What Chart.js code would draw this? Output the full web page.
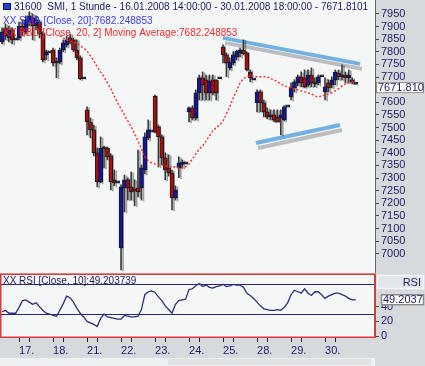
<!DOCTYPE html>
<html>
<head>
<meta charset="utf-8">
<script src="https://cdn.jsdelivr.net/npm/chart.js@4.4.1/dist/chart.umd.min.js"></script>
<style>
    body { margin: 0; width: 425px; height: 366px; overflow: hidden; background: #d6dadd; position: relative; }
    #price { position: absolute; left: 0; top: 0; }
    #rsi { position: absolute; left: 0; top: 273px; }
</style>
</head>
<body>
<canvas id="price" width="425" height="273"></canvas>
<canvas id="rsi" width="425" height="93"></canvas>
<script>
// hourly bars, 16.01.2008 14:00 .. 30.01.2008 18:00
const OPEN = [
    7839, 7895, 7855, 7887, 7847,
    7855, 7902, 7879, 7918, 7934, 7902, 7918, 7871, 7788, 7796,
    7807, 7764, 7760, 7807, 7827, 7855, 7847, 7807, 7776, 7693,
    7570, 7522, 7491, 7400, 7285, 7423, 7419, 7388, 7293, 7281,
    7023, 7261, 7293, 7265, 7253, 7261, 7261, 7332, 7459, 7483,
    7625, 7503, 7463, 7380, 7340, 7320, 7221, 7340, 7354, 7356,
    7562, 7578, 7538, 7637, 7697, 7689, 7637, 7689, 7689, 7693,
    7819, 7788, 7736, 7756, 7780, 7796, 7807, 7796, 7720, 7689,
    7598, 7641, 7598, 7562, 7542, 7550, 7542, 7538, 7530, 7582,
    7621, 7657, 7677, 7701, 7697, 7669, 7708, 7677, 7677, 7701,
    7641, 7677, 7669, 7689, 7716, 7701, 7708, 7697, 7689, 7671.81,
];
const HIGH = [
    7895, 7910, 7902, 7895, 7847,
    7918, 7926, 7942, 7958, 7950, 7942, 7926, 7879, 7807, 7796,
    7815, 7776, 7815, 7847, 7863, 7871, 7855, 7847, 7784, 7693,
    7582, 7538, 7510, 7419, 7463, 7427, 7423, 7396, 7332, 7281,
    7273, 7312, 7301, 7324, 7293, 7411, 7352, 7479, 7530, 7483,
    7629, 7510, 7471, 7400, 7392, 7332, 7269, 7384, 7372, 7356,
    7582, 7586, 7649, 7708, 7720, 7708, 7708, 7708, 7689, 7693,
    7827, 7796, 7776, 7800, 7807, 7815, 7847, 7800, 7728, 7689,
    7649, 7649, 7609, 7578, 7570, 7570, 7570, 7570, 7586, 7582,
    7677, 7689, 7708, 7720, 7728, 7728, 7736, 7697, 7708, 7701,
    7697, 7689, 7701, 7728, 7728, 7748, 7720, 7728, 7697, 7671.81,
];
const LOW = [
    7831, 7847, 7839, 7831, 7847,
    7847, 7863, 7871, 7902, 7847, 7887, 7855, 7760, 7768, 7796,
    7744, 7697, 7752, 7800, 7819, 7831, 7800, 7768, 7689, 7693,
    7471, 7459, 7388, 7265, 7281, 7340, 7372, 7253, 7269, 7281,
    6936, 7166, 7213, 7213, 7190, 7225, 7213, 7316, 7451, 7483,
    7479, 7344, 7352, 7293, 7308, 7174, 7213, 7301, 7340, 7356,
    7522, 7530, 7530, 7609, 7609, 7609, 7609, 7629, 7609, 7693,
    7756, 7701, 7728, 7748, 7768, 7780, 7788, 7724, 7681, 7689,
    7562, 7562, 7542, 7534, 7530, 7522, 7522, 7471, 7526, 7582,
    7609, 7641, 7665, 7661, 7657, 7661, 7661, 7661, 7669, 7701,
    7609, 7641, 7657, 7669, 7689, 7689, 7677, 7677, 7673, 7671.81,
];
const CLOSE = [
    7879, 7863, 7887, 7847, 7847,
    7902, 7879, 7926, 7942, 7902, 7926, 7871, 7768, 7800, 7796,
    7756, 7756, 7807, 7835, 7847, 7839, 7807, 7776, 7693, 7693,
    7522, 7491, 7400, 7285, 7419, 7415, 7384, 7285, 7281, 7281,
    7265, 7293, 7261, 7245, 7249, 7245, 7340, 7463, 7491, 7483,
    7483, 7463, 7380, 7332, 7320, 7221, 7253, 7360, 7358, 7356,
    7578, 7538, 7637, 7697, 7669, 7637, 7685, 7637, 7637, 7693,
    7788, 7756, 7760, 7788, 7803, 7807, 7792, 7728, 7697, 7689,
    7641, 7598, 7562, 7542, 7546, 7530, 7522, 7550, 7582, 7582,
    7657, 7681, 7701, 7677, 7661, 7708, 7677, 7673, 7701, 7701,
    7661, 7657, 7689, 7720, 7701, 7704, 7697, 7708, 7681, 7671.81,
];
// BBD middle band = SMA(Close, 20)
const SMA20 = [
    null, null, null, null, null,
    null, null, null, null, null, null, null, null, null, null,
    null, null, 7863, 7855, 7847, 7843, 7839, 7835, 7823, 7815,
    7803, 7784, 7764, 7740, 7720, 7701, 7677, 7653, 7625, 7598,
    7574, 7550, 7526, 7503, 7475, 7447, 7415, 7384, 7368, 7360,
    7356, 7352, 7352, 7348, 7348, 7344, 7344, 7340, 7340, 7344,
    7356, 7376, 7396, 7415, 7427, 7447, 7467, 7487, 7499, 7510,
    7526, 7554, 7582, 7617, 7645, 7677, 7693, 7701, 7704, 7704,
    7701, 7701, 7701, 7701, 7693, 7689, 7681, 7673, 7665, 7661,
    7657, 7653, 7649, 7645, 7641, 7637, 7633, 7625, 7621, 7625,
    7629, 7633, 7637, 7645, 7653, 7665, 7673, 7677, 7681, 7682.25,
];
const RSI10 = [
    33, 35, 31, 31, 31,
    39, 48, 49, 46, 43, 45, 40, 35, 31, 30,
    28, 27, 35, 44, 54, 52, 46, 38, 31, 26,
    20, 18, 16, 13, 24, 30, 26, 25, 24, 23,
    23, 28, 27, 26, 26, 27, 36, 56, 60, 61,
    59, 53, 48, 41, 36, 31, 43, 48, 49, 50,
    63, 64, 68, 71, 67, 69, 66, 65, 67, 68,
    70, 67, 68, 70, 69, 69, 66, 58, 55, 51,
    46, 41, 37, 36, 35, 35, 36, 35, 39, 45,
    56, 62, 60, 58, 64, 58, 55, 60, 60, 56,
    51, 54, 56, 58, 58, 56, 54, 51, 49, 49.2,
];
const DAY_LABELS = ['17.', '18.', '21.', '22.', '23.', '24.', '25.', '28.', '29.', '30.'];
const DAY_FIRST_BAR = [5, 15, 25, 35, 45, 55, 65, 75, 85, 95];
const RSI_TICKS = [0, 20, 40];
const RSI_LEVELS = [30, 70];
const UPPER_TREND = [{ x: 65, y: 7855 }, { x: 105.3, y: 7752 }];
const LOWER_TREND = [{ x: 74.7, y: 7439 }, { x: 99.4, y: 7510 }];

const X_MIN = -0.6;
const X_MAX = 109.7;
const PRICE_MIN = 6924;
const PRICE_MAX = 8005;
const RSI_MIN = -1;
const RSI_MAX = 83.9;

const FONT = "'Liberation Sans', Arial, sans-serif";
const NAVY = '#1c1c66';
const AXIS_BG = '#d6dadd';
const PLOT_BG = '#f5f7f7';

const fix = (scale) => {
    scale.paddingTop = 0;
    scale.paddingBottom = 0;
    scale.paddingLeft = 0;
    scale.paddingRight = 0;
};

const shadowPlugin = {
    id: 'shadow',
    beforeDatasetDraw(chart, args) {
        const s = chart.data.datasets[args.index].shadow;
        if (!s) return;
        const ctx = chart.ctx;
        ctx.save();
        ctx.shadowColor = s.color;
        ctx.shadowOffsetX = s.dx;
        ctx.shadowOffsetY = s.dy;
        ctx.shadowBlur = s.blur || 0;
    },
    afterDatasetDraw(chart, args) {
        if (chart.data.datasets[args.index].shadow) chart.ctx.restore();
    },
};

const pricePanel = {
    id: 'pricePanel',
    beforeDraw(chart) {
        const { ctx, chartArea: a, width, height } = chart;
        ctx.save();
        ctx.fillStyle = AXIS_BG;
        ctx.fillRect(0, 0, width, height);
        ctx.fillStyle = PLOT_BG;
        ctx.fillRect(a.left, a.top, a.right - a.left, a.bottom - a.top);
        ctx.restore();
    },
    afterDraw(chart) {
        const { ctx } = chart;
        ctx.save();
        // title icon
        ctx.fillStyle = '#2040d0';
        ctx.fillRect(3, 3, 8, 7);
        ctx.strokeStyle = '#101060';
        ctx.strokeRect(3.5, 3.5, 7, 6);
        ctx.font = '10px ' + FONT;
        ctx.textBaseline = 'middle';
        ctx.fillStyle = NAVY;
        ctx.fillText('31600  SMI, 1 Stunde - 16.01.2008 14:00:00 - 30.01.2008 18:00:00 - 7671.8101', 14, 7.5);
        ctx.fillStyle = '#3c3cff';
        ctx.fillText('XX SMA [Close, 20]:7682.248853', 3, 21);
        ctx.fillStyle = '#ff2a2a';
        ctx.fillText('XX BBD [Close, 20, 2] Moving Average:7682.248853', 3, 33);

        // last value box
        const y = chart.scales.y.getPixelForValue(CLOSE[CLOSE.length - 1]);
        const left = chart.chartArea.right + 1;
        ctx.fillStyle = '#ffffff';
        ctx.fillRect(left, y - 2, 48, 11);
        ctx.strokeStyle = '#8a8a8a';
        ctx.strokeRect(left + 0.5, y - 1.5, 47, 10);
        ctx.font = '11px ' + FONT;
        ctx.fillStyle = NAVY;
        ctx.fillText(CLOSE[CLOSE.length - 1].toFixed(3), left + 2, y + 3.5);
        ctx.restore();
    },
};

const rsiPanel = {
    id: 'rsiPanel',
    beforeDraw(chart) {
        const { ctx, chartArea: a, width, height } = chart;
        ctx.save();
        ctx.fillStyle = AXIS_BG;
        ctx.fillRect(0, 0, width, height);
        ctx.fillStyle = PLOT_BG;
        ctx.fillRect(a.left, a.top, a.right - a.left, a.bottom - a.top);
        // scroll bar strip
        ctx.fillStyle = '#eef0f1';
        ctx.fillRect(0, height - 8, a.right, 8);
        ctx.fillStyle = '#dfe2e4';
        ctx.fillRect(168, height - 7, a.right - 172, 6);
        ctx.restore();
    },
    beforeDatasetsDraw(chart) {
        const { ctx, chartArea: a, scales } = chart;
        ctx.save();
        ctx.strokeStyle = '#2a2a70';
        ctx.lineWidth = 1;
        RSI_LEVELS.forEach((lvl) => {
            const y = Math.round(scales.y.getPixelForValue(lvl)) + 0.5;
            ctx.beginPath();
            ctx.moveTo(a.left, y);
            ctx.lineTo(a.right, y);
            ctx.stroke();
        });
        ctx.restore();
    },
    afterDraw(chart) {
        const { ctx, chartArea: a, scales } = chart;
        ctx.save();
        ctx.strokeStyle = '#e03838';
        ctx.lineWidth = 1.5;
        ctx.strokeRect(a.left + 0.75, a.top + 0.25, a.right - a.left - 1, a.bottom - a.top);

        ctx.font = '10px ' + FONT;
        ctx.textBaseline = 'middle';
        ctx.fillStyle = NAVY;
        ctx.fillText('XX RSI [Close, 10]:49.203739', 3, 8.5);

        // "RSI" header box on the axis
        ctx.fillStyle = '#e2e5e8';
        ctx.fillRect(a.right + 2, 2, 47, 14);
        ctx.strokeStyle = '#f6f7f8';
        ctx.strokeRect(a.right + 2.5, 2.5, 46, 13);
        ctx.font = '11px ' + FONT;
        ctx.fillStyle = NAVY;
        ctx.textAlign = 'right';
        ctx.fillText('RSI', 421, 9.5);

        // last value box
        const last = RSI10[RSI10.length - 1];
        const y = scales.y.getPixelForValue(last);
        ctx.fillStyle = '#ffffff';
        ctx.fillRect(a.right + 6, y - 5.5, 43, 11);
        ctx.strokeStyle = '#8a8a8a';
        ctx.strokeRect(a.right + 6.5, y - 5, 42, 10);
        ctx.textAlign = 'left';
        ctx.fillStyle = NAVY;
        ctx.fillText('49.2037', a.right + 8, y + 0.5);
        ctx.restore();
    },
};

const idx = CLOSE.map((_, i) => i);

new Chart(document.getElementById('price'), {
    type: 'bar',
    data: {
        datasets: [
            {
                label: 'channel top',
                type: 'line',
                data: UPPER_TREND,
                borderColor: '#72b2e2',
                borderWidth: 4,
                pointRadius: 0,
                shadow: { color: 'rgba(140,140,150,0.55)', dx: 2, dy: 5 },
                order: 5,
            },
            {
                label: 'channel bottom',
                type: 'line',
                data: LOWER_TREND,
                borderColor: '#72b2e2',
                borderWidth: 4,
                pointRadius: 0,
                shadow: { color: 'rgba(140,140,150,0.55)', dx: 2, dy: 5 },
                order: 5,
            },
            {
                label: 'wick',
                data: idx.map((i) => ({ x: i, y: [LOW[i], HIGH[i]] })),
                backgroundColor: '#3a3a3a',
                barThickness: 1,
                grouped: false,
                shadow: { color: 'rgba(0,0,0,0.35)', dx: 2, dy: 1 },
                order: 4,
            },
            {
                label: 'body',
                data: idx.map((i) => ({ x: i, y: [OPEN[i], CLOSE[i]] })),
                backgroundColor: idx.map((i) => (CLOSE[i] >= OPEN[i] ? '#1414a8' : '#a81010')),
                borderColor: '#1a1a1a',
                borderWidth: 1,
                borderSkipped: false,
                barThickness: 4,
                minBarLength: 2,
                grouped: false,
                shadow: { color: 'rgba(0,0,0,0.3)', dx: 2, dy: 1 },
                order: 3,
            },
            {
                label: 'SMA 20',
                type: 'line',
                data: idx.map((i) => ({ x: i, y: SMA20[i] })),
                borderColor: '#ff2a2a',
                borderWidth: 1.4,
                borderDash: [2, 2],
                pointRadius: 0,
                spanGaps: false,
                order: 1,
            },
        ],
    },
    options: {
        responsive: false,
        animation: false,
        layout: { padding: 0, autoPadding: false },
        plugins: { legend: { display: false }, tooltip: { enabled: false } },
        scales: {
            x: { type: 'linear', min: X_MIN, max: X_MAX, offset: false, display: false },
            y: {
                position: 'right',
                min: PRICE_MIN,
                max: PRICE_MAX,
                afterBuildTicks(scale) {
                    scale.ticks = scale.ticks.filter((t) => t.value >= 6950 && t.value <= 7950 && t.value % 50 === 0);
                },
                ticks: {
                    stepSize: 50,
                    autoSkip: false,
                    padding: 2,
                    color: NAVY,
                    font: { family: FONT, size: 11 },
                    callback: (v) => String(v),
                },
                grid: { drawOnChartArea: false, tickLength: 4, tickColor: '#444' },
                border: { display: true, color: '#666', dash: [1, 2] },
                afterFit(scale) {
                    scale.width = 50;
                    fix(scale);
                },
            },
        },
    },
    plugins: [shadowPlugin, pricePanel],
});

new Chart(document.getElementById('rsi'), {
    type: 'line',
    data: {
        datasets: [
            {
                label: 'RSI',
                data: idx.map((i) => ({ x: i, y: RSI10[i] })),
                borderColor: '#2e2e7e',
                borderWidth: 1.3,
                pointRadius: 0,
                tension: 0,
            },
        ],
    },
    options: {
        responsive: false,
        animation: false,
        layout: { padding: { top: 1 }, autoPadding: false },
        plugins: { legend: { display: false }, tooltip: { enabled: false } },
        scales: {
            x: {
                type: 'linear',
                min: X_MIN,
                max: X_MAX,
                offset: false,
                afterBuildTicks(scale) {
                    const ticks = [];
                    DAY_FIRST_BAR.forEach((b) => {
                        ticks.push({ value: b });
                        ticks.push({ value: b + 3 });
                    });
                    scale.ticks = ticks;
                },
                ticks: {
                    autoSkip: false,
                    maxRotation: 0,
                    align: 'start',
                    padding: 2,
                    color: NAVY,
                    font: { family: FONT, size: 11 },
                    callback: (v) => {
                        const k = DAY_FIRST_BAR.indexOf(v);
                        return k >= 0 ? DAY_LABELS[k] : '';
                    },
                },
                grid: { drawOnChartArea: false, tickLength: 5, tickColor: '#222' },
                border: { display: false },
                afterFit(scale) {
                    scale.height = 29;
                    fix(scale);
                },
            },
            y: {
                position: 'right',
                min: RSI_MIN,
                max: RSI_MAX,
                afterBuildTicks(scale) {
                    scale.ticks = RSI_TICKS.map((v) => ({ value: v }));
                },
                ticks: {
                    autoSkip: false,
                    padding: 2,
                    color: NAVY,
                    font: { family: FONT, size: 11 },
                    callback: (v) => String(v),
                },
                grid: { drawOnChartArea: false, tickLength: 4, tickColor: '#444' },
                border: { display: true, color: '#666', dash: [1, 2] },
                afterFit(scale) {
                    scale.width = 50;
                    fix(scale);
                },
            },
        },
    },
    plugins: [rsiPanel],
});
</script>
</body>
</html>
